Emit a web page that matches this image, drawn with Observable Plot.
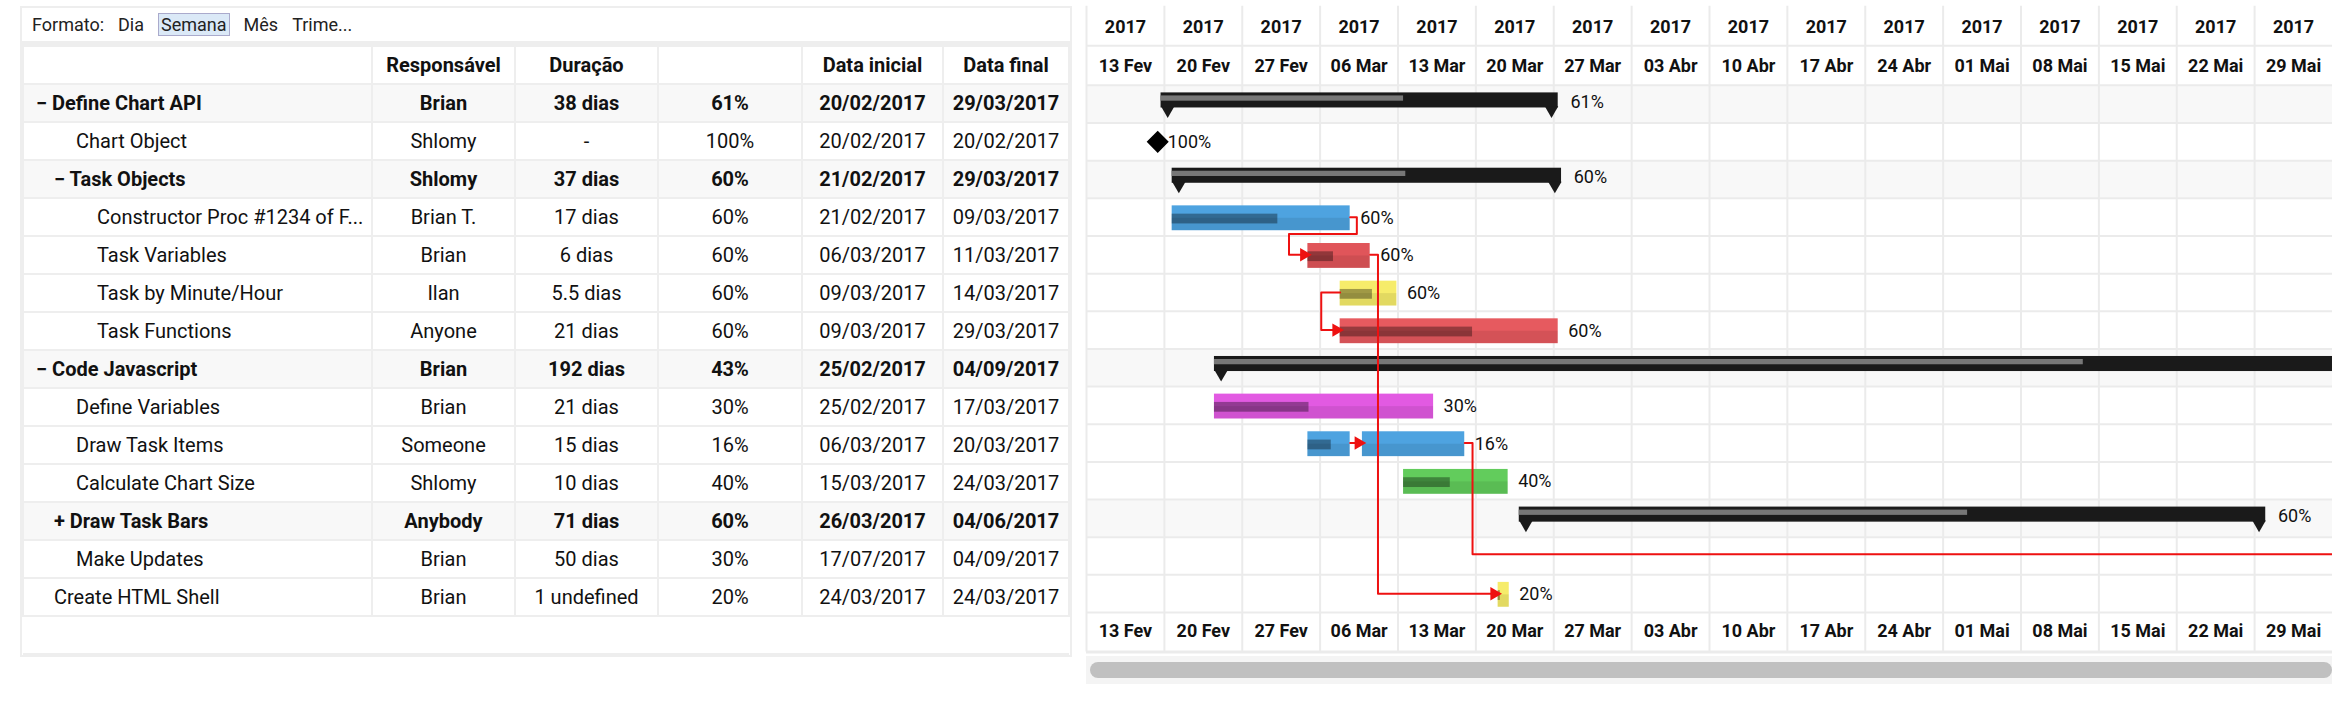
<!DOCTYPE html>
<html><head><meta charset="utf-8">
<script src="https://cdn.jsdelivr.net/npm/d3@7"></script>
<script src="https://cdn.jsdelivr.net/npm/@observablehq/plot@0.6"></script>
<style>
body{margin:0;background:#fff;font-family:Roboto,"Liberation Sans",sans-serif;width:2332px;height:716px;overflow:hidden;position:relative}
#tbl{position:absolute;left:20px;top:6px;width:1048px;border:2px solid #eee}
#fmt{height:33px;line-height:33px;font-size:18px;padding-left:10px;color:#222;border-bottom:4px solid #eee}
#fmt span{margin-right:14px}
#fmt .sel{background:#dbe9f7;border:1px solid #aac;padding:0 2px}
table{border-collapse:collapse;width:100%;font-size:20px;color:#111}
td,th{border:2px solid #eee;height:36px;padding:0;text-align:center;white-space:nowrap;overflow:hidden}
tr.b td{font-weight:bold;background:#f8f8f8}
td.n{text-align:left}
#plot{position:absolute;left:1086px;top:6px}
#sb{position:absolute;left:1090px;top:662px;width:1242px;height:16px;background:#c0c0c0;border-radius:8px}
#sbt{position:absolute;left:1086px;top:656px;width:1246px;height:28px;background:#f4f4f4}
</style></head><body>
<div id="tbl"><div id="fmt"><span>Formato:</span><span>Dia</span><span class="sel">Semana</span><span>Mês</span><span>Trime...</span></div>
<table id="t"></table></div>
<div id="sbt"></div><div id="sb"></div>
<div id="plot"></div>
<script>
const names=["Define Chart API","Chart Object","Task Objects","Constructor Proc #1234 of F...","Task Variables","Task by Minute/Hour","Task Functions","Code Javascript","Define Variables","Draw Task Items","Calculate Chart Size","Draw Task Bars","Make Updates","Create HTML Shell"];
const indents=[12,52,30,73,73,73,73,12,52,52,52,30,52,30];
const toggles=["−","","−","","","","","−","","","","+","",""];
const bold=[1,0,1,0,0,0,0,1,0,0,0,1,0,0];
const owners=["Brian","Shlomy","Shlomy","Brian T.","Brian","Ilan","Anyone","Brian","Brian","Someone","Shlomy","Anybody","Brian","Brian"];
const durations=["38 dias","-","37 dias","17 dias","6 dias","5.5 dias","21 dias","192 dias","21 dias","15 dias","10 dias","71 dias","50 dias","1 undefined"];
const pcts=["61%","100%","60%","60%","60%","60%","60%","43%","30%","16%","40%","60%","30%","20%"];
const startDates=["20/02/2017","20/02/2017","21/02/2017","21/02/2017","06/03/2017","09/03/2017","09/03/2017","25/02/2017","25/02/2017","06/03/2017","15/03/2017","26/03/2017","17/07/2017","24/03/2017"];
const endDates=["29/03/2017","20/02/2017","29/03/2017","09/03/2017","11/03/2017","14/03/2017","29/03/2017","04/09/2017","17/03/2017","20/03/2017","24/03/2017","04/06/2017","04/09/2017","24/03/2017"];
// gantt (days after 13 Feb 2017, as drawn)
const barType=["summary","milestone","summary","task","task","task","task","summary","task","task","task","summary","none","task"];
const barStart=[6.7,6.4,7.7,7.7,19.9,22.8,22.8,11.5,11.5,24.8,28.5,38.9,null,37];
const barEnd=[42.4,null,42.7,23.7,25.5,27.9,42.4,205,31.2,34,37.9,106,null,38];
const barProg=[28.5,null,28.7,17.2,22.2,25.7,34.7,89.6,20,24.8,32.7,79.2,null,37.2];
const barColor=["#1a1a1a","#000","#1a1a1a","#4ea3e0","#e0555a","#f6ec6a","#e65a5f","#1a1a1a","#e25ae2","#4ea3e0","#62cc5c","#1a1a1a",null,"#f6ec6a"];
const showLabel=[1,1,1,1,1,1,1,0,1,1,1,1,0,1];
const extraSeg={row:9,start:19.9,end:23.7,prog:22};
const yearLabels=Array(16).fill("2017");
const weekLabels=["13 Fev","20 Fev","27 Fev","06 Mar","13 Mar","20 Mar","27 Mar","03 Abr","10 Abr","17 Abr","24 Abr","01 Mai","08 Mai","15 Mai","22 Mai","29 Mai"];
const links=[
 [[23.7,3.5],[24.3,3.5],[24.3,3.95],[18.2,3.95],[18.2,4.5],[19.9,4.5]],
 [[22.8,5.5],[21.1,5.5],[21.1,6.5],[22.8,6.5]],
 [[25.5,4.5],[26.2,4.5],[26.2,13.5],[37,13.5]],
 [[23.7,9.5],[24.8,9.5]],
 [[34,9.5],[34.7,9.5],[34.7,12.45],[200,12.45]]];
const arrowEnds=[[19.9,4.5],[22.8,6.5],[37,13.5],[24.8,9.5]];

const t=document.getElementById("t");
let h="<tr><th style='width:347px'></th><th style='width:141px'>Responsável</th><th style='width:141px'>Duração</th><th style='width:142px'></th><th style='width:139px'>Data inicial</th><th>Data final</th></tr>";
names.forEach((n,i)=>{
 h+=`<tr class="${bold[i]?'b':''}"><td class="n" style="padding-left:${indents[i]}px">${toggles[i]?toggles[i]+' ':''}${n}</td><td>${owners[i]}</td><td>${durations[i]}</td><td>${pcts[i]}</td><td>${startDates[i]}</td><td>${endDates[i]}</td></tr>`;
});
h+="<tr><td colspan='6' style='height:36px;border-left:none;border-right:none'></td></tr>";
t.innerHTML=h;

const base=new Date(2017,1,13);
const D=d=>new Date(+base+d*864e5);
const weeks=d3.range(16).map(i=>({d:D(i*7),m:D(i*7+3.5),y:yearLabels[i],w:weekLabels[i]}));
const rows=names.map((n,i)=>({i,t:barType[i],s0:barStart[i],e0:barEnd[i],s:barStart[i]==null?null:D(barStart[i]),e:barEnd[i]==null?null:D(barEnd[i]),p:barProg[i]==null?null:D(barProg[i]),c:barColor[i],l:pcts[i],show:showLabel[i],b:bold[i]}));
const sums=rows.filter(r=>r.t=="summary"), tasks=rows.filter(r=>r.t=="task");
const seg=[{i:extraSeg.row,s:D(extraSeg.start),e:D(extraSeg.end),p:D(extraSeg.prog),c:"#4ea3e0"}];
const allTasks=tasks.concat(seg);
const linkData=links.flatMap((L,k)=>L.map(([d,y])=>({k,x:D(d),y})));
const tri=sums.flatMap(r=>[{x:D(r.s0+0.6),y:r.i+0.66},{x:D(r.e0-0.6),y:r.i+0.66}]);
const lab=rows.filter(r=>r.show).map(r=>({x:r.t=="milestone"?D(r.s0+0.9):D(r.e0+(r.t=="summary"?1.1:0.9)),y:r.i+(r.t=="summary"?0.45:0.52),l:r.l}));

const chart=Plot.plot({
 width:1248,height:647,marginLeft:0,marginRight:0,marginTop:79,marginBottom:40,
 style:{fontFamily:"Roboto, sans-serif",fontSize:"17px",color:"#111",overflow:"visible"},
 x:{type:"time",domain:[D(0),D(112)],axis:null},
 y:{type:"linear",domain:[0,14],range:[79,607],axis:null},
 marks:[
  Plot.rect(rows.filter(r=>r.b),{x1:D(0),x2:D(112),y1:d=>d.i,y2:d=>d.i+1,fill:"#f8f8f8"}),
  Plot.ruleX(weeks,{x:"d",y1:-2.1,y2:15.05,stroke:"#ebebeb",strokeWidth:2}),
  Plot.ruleY(d3.range(15).concat([-1.05]),{stroke:"#ebebeb",strokeWidth:2}),
  Plot.ruleY([15.05],{stroke:"#ebebeb",strokeWidth:3}),
  Plot.text(weeks,{x:"m",y:-1.55,text:"y",fontWeight:"bold",fontSize:18}),
  Plot.text(weeks,{x:"m",y:-0.52,text:"w",fontWeight:"bold",fontSize:18}),
  Plot.text(weeks,{x:"m",y:14.5,text:"w",fontWeight:"bold",fontSize:18}),
  Plot.rect(sums,{x1:"s",x2:"e",y1:d=>d.i+0.2,y2:d=>d.i+0.6,fill:"#1a1a1a",clip:true}),
  Plot.rect(sums,{x1:"s",x2:"p",y1:d=>d.i+0.28,y2:d=>d.i+0.42,fill:"#777",clip:true}),
  Plot.dot(tri,{x:"x",y:"y",symbol:"triangle",rotate:180,r:5,fill:"#1a1a1a",clip:true}),
  Plot.rect(allTasks,{x1:"s",x2:"e",y1:d=>d.i+0.2,y2:d=>d.i+0.86,fill:"c"}),
  Plot.rect(allTasks,{x1:"s",x2:"e",y1:d=>d.i+0.53,y2:d=>d.i+0.86,fill:"#000",fillOpacity:0.08}),
  Plot.rect(allTasks,{x1:"s",x2:"p",y1:d=>d.i+0.42,y2:d=>d.i+0.68,fill:"#000",fillOpacity:0.35}),
  Plot.dot(rows.filter(r=>r.t=="milestone"),{x:"s",y:d=>d.i+0.5,symbol:"diamond2",r:9,fill:"#000",stroke:"#000"}),
  Plot.line(linkData,{x:"x",y:"y",z:"k",stroke:"#ee1111",strokeWidth:2,curve:"linear",clip:true}),
  Plot.dot(arrowEnds,{x:d=>D(d[0]-0.35),y:d=>d[1],symbol:"triangle",rotate:90,r:5,fill:"#ee1111"}),
  Plot.text(lab,{x:"x",y:"y",text:"l",textAnchor:"start",fontSize:18,fill:"#111"})
 ]
});
document.getElementById("plot").append(chart);
</script></body></html>
